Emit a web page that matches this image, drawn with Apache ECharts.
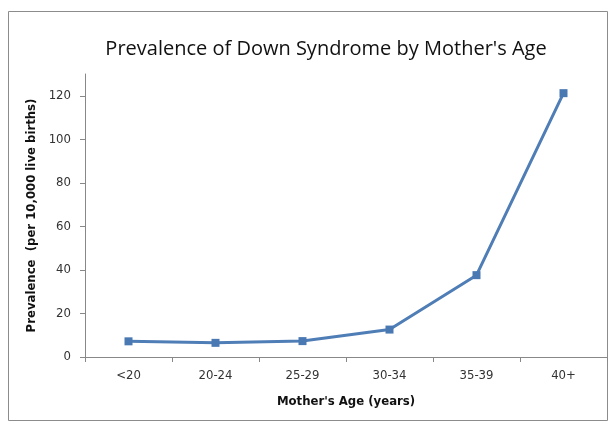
<!DOCTYPE html>
<html><head><meta charset="utf-8">
<script src="https://cdn.jsdelivr.net/npm/echarts@6/dist/echarts.min.js"></script>
<style>html,body{margin:0;padding:0;background:#fff}#c{width:609px;height:426px}</style>
</head><body><div id="c"></div>
<script>
var categories = ['<20', '20-24', '25-29', '30-34', '35-39', '40+'];
var prevalence = [7.2, 6.5, 7.3, 12.6, 37.6, 121.2];
var yTicks = [0, 20, 40, 60, 80, 100, 120];

var F = '"Liberation Sans Narrow","DejaVu Sans Condensed","Arial Narrow",sans-serif';
var chart = echarts.init(document.getElementById('c'));
chart.setOption({
  animation: false,
  graphic: [{type: 'rect', shape: {x: 8.5, y: 11.5, width: 599, height: 409}, style: {fill: 'none', stroke: '#8c8c8c', lineWidth: 1}}],
  title: {text: "Prevalence of Down Syndrome by Mother's Age", left: 321, top: 34, textAlign: 'center',
    textStyle: {fontFamily: '"Open Sans","Liberation Sans",sans-serif', fontSize: 20, fontWeight: 'normal', color: '#111'}},
  grid: {left: 85, right: 2, top: 74, bottom: 69},
  xAxis: {type: 'category', data: categories, boundaryGap: true,
    name: "Mother's Age (years)", nameLocation: 'middle', nameGap: 38,
    nameTextStyle: {fontFamily: F, fontSize: 13, fontWeight: 'bold', color: '#111'},
    axisLine: {lineStyle: {color: '#888', width: 1}},
    axisTick: {show: true, alignWithLabel: false, length: 5, lineStyle: {color: '#888'}},
    axisLabel: {fontFamily: F, fontSize: 13, color: '#333', margin: 12}},
  yAxis: {type: 'value', min: 0, max: 130, interval: 20,
    name: 'Prevalence  (per 10,000 live births)', nameLocation: 'middle', nameGap: 46,
    nameTextStyle: {fontFamily: F, fontSize: 13, fontWeight: 'bold', color: '#111'},
    axisLine: {show: true, lineStyle: {color: '#888', width: 1}},
    axisTick: {show: true, length: 5, lineStyle: {color: '#888'}, customValues: yTicks},
    axisLabel: {fontFamily: F, fontSize: 13, color: '#333', margin: 14, customValues: yTicks},
    splitLine: {show: false}},
  series: [{type: 'line', data: prevalence, symbol: 'rect', symbolSize: 8,
    lineStyle: {color: '#4f7db6', width: 3},
    itemStyle: {color: '#4a78b3'}}]
});
</script></body></html>
